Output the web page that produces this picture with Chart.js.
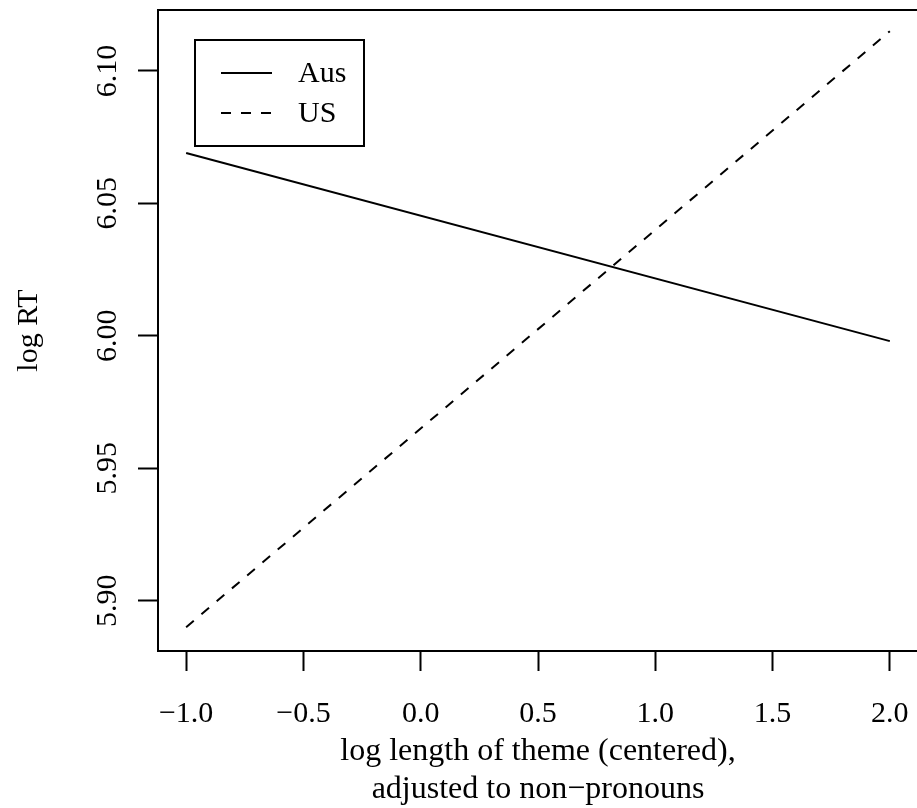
<!DOCTYPE html>
<html lang="en">
<head>
    <meta charset="UTF-8">
    <title>log RT by log length of theme</title>
    <script src="https://cdn.jsdelivr.net/npm/chart.js"></script>
    <style>
        html, body { margin: 0; padding: 0; background: #fff; overflow: hidden; }
        #rtChart { display: block; }
    </style>
</head>
<body>
    <canvas id="rtChart" width="920" height="808"></canvas>
    <script>
        // values (fitted lines, endpoints at x = -1 and 2)
        const xVals = [-1, 2];
        const ausVals = [6.069, 5.998];
        const usVals = [5.890, 6.115];
        const seriesNames = ['Aus', 'US'];
        const xTicks = [-1.0, -0.5, 0.0, 0.5, 1.0, 1.5, 2.0];
        const yTicks = [5.90, 5.95, 6.00, 6.05, 6.10];
        const xTitle = ['log length of theme (centered),', 'adjusted to non\u2212pronouns'];
        const yTitle = 'log RT';

        const FONT = '30px "Liberation Serif", "DejaVu Serif", serif';
        const TITLE_FONT = '32px "Liberation Serif", "DejaVu Serif", serif';
        const dashPattern = [10, 10];

        const toPoints = vals => vals.map((v, i) => ({ x: xVals[i], y: v }));
        const fmt = (v, d) => (v < 0 ? '\u2212' : '') + Math.abs(v).toFixed(d);

        // R-style box, tick labels, titles and legend
        const rDecor = {
            id: 'rDecor',
            afterDraw(chart) {
                const ctx = chart.ctx;
                const ca = chart.chartArea;
                const xs = chart.scales.x;
                const ys = chart.scales.y;
                ctx.save();
                ctx.strokeStyle = '#000';
                ctx.fillStyle = '#000';
                ctx.lineWidth = 2;
                ctx.strokeRect(ca.left, ca.top, ca.right - ca.left, ca.bottom - ca.top);

                ctx.font = FONT;
                ctx.textAlign = 'center';
                ctx.textBaseline = 'alphabetic';
                xTicks.forEach(v => {
                    ctx.fillText(fmt(v, 1), xs.getPixelForValue(v), 722);
                });

                yTicks.forEach(v => {
                    ctx.save();
                    ctx.translate(116, ys.getPixelForValue(v));
                    ctx.rotate(-Math.PI / 2);
                    ctx.fillText(fmt(v, 2), 0, 0);
                    ctx.restore();
                });
                ctx.save();
                ctx.translate(37, (ca.top + ca.bottom) / 2);
                ctx.rotate(-Math.PI / 2);
                ctx.fillText(yTitle, 0, 0);
                ctx.restore();

                ctx.font = TITLE_FONT;
                const midX = (ca.left + ca.right) / 2;
                ctx.fillText(xTitle[0], midX, 760);
                ctx.fillText(xTitle[1], midX, 798);

                // legend
                ctx.font = FONT;
                const lx = ca.left + 37, ly = ca.top + 30;
                ctx.strokeRect(lx, ly, 169, 106);
                const rows = [ly + 33, ly + 73];
                rows.forEach((ry, i) => {
                    ctx.beginPath();
                    ctx.setLineDash(i === 0 ? [] : dashPattern);
                    ctx.moveTo(lx + 26, ry);
                    ctx.lineTo(lx + 77, ry);
                    ctx.stroke();
                    ctx.setLineDash([]);
                    ctx.textAlign = 'left';
                    ctx.textBaseline = 'middle';
                    ctx.fillText(seriesNames[i], lx + 103, ry + 1);
                });
                ctx.restore();
            }
        };

        const ctx = document.getElementById('rtChart').getContext('2d');
        const rtChart = new Chart(ctx, {
            type: 'line',
            data: {
                datasets: [
                    {
                        label: seriesNames[0],
                        data: toPoints(ausVals),
                        borderColor: '#000',
                        borderWidth: 2,
                        pointRadius: 0,
                        fill: false
                    },
                    {
                        label: seriesNames[1],
                        data: toPoints(usVals),
                        borderColor: '#000',
                        borderWidth: 2,
                        borderDash: dashPattern,
                        pointRadius: 0,
                        fill: false
                    }
                ]
            },
            options: {
                responsive: false,
                animation: false,
                devicePixelRatio: 1,
                layout: { padding: { top: 10, right: 2, left: 0, bottom: 0 } },
                plugins: {
                    legend: { display: false },
                    tooltip: { enabled: false }
                },
                scales: {
                    x: {
                        type: 'linear',
                        min: -1.12,
                        max: 2.12,
                        afterBuildTicks: s => { s.ticks = xTicks.map(v => ({ value: v })); },
                        afterFit: s => { s.height = 157; },
                        ticks: { display: false },
                        border: { display: false },
                        grid: { drawOnChartArea: false, drawTicks: true, tickLength: 20, tickColor: '#000', tickWidth: 2 }
                    },
                    y: {
                        type: 'linear',
                        min: 5.881,
                        max: 6.123,
                        afterBuildTicks: s => { s.ticks = yTicks.map(v => ({ value: v })); },
                        afterFit: s => { s.width = 158; },
                        ticks: { display: false },
                        border: { display: false },
                        grid: { drawOnChartArea: false, drawTicks: true, tickLength: 20, tickColor: '#000', tickWidth: 2 }
                    }
                }
            },
            plugins: [rDecor]
        });
    </script>
</body>
</html>
